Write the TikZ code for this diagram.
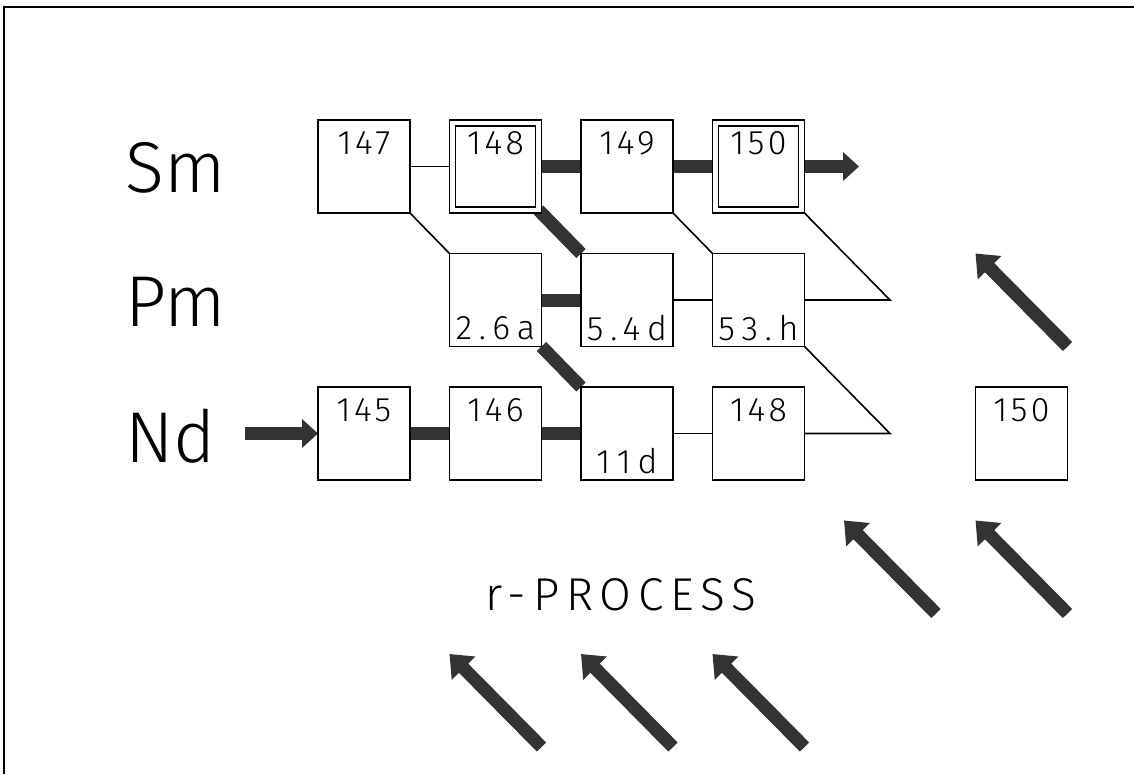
\documentclass[tikz,border=0pt]{standalone}
\usepackage{fontspec}
\setmainfont{Fira Sans Light}
\usepackage{tikz}
\usetikzlibrary{arrows.meta,backgrounds}

\begin{document}
\begin{tikzpicture}[x=1pt,y=-1pt,
  nuc/.style={draw,line width=1.6pt,fill=white,minimum width=92pt,minimum height=93pt,inner sep=0pt,outer sep=0pt},
  stab/.style={nuc,double,double distance=4.4pt,minimum width=86pt,minimum height=87pt},
  mass/.style={font=\fontsize{34}{36}\selectfont\addfontfeatures{LetterSpace=10},inner sep=0pt},
  life/.style={font=\fontsize{34}{36}\selectfont\addfontfeatures{LetterSpace=20},inner sep=0pt},
  elem/.style={font=\fontsize{72}{76}\selectfont,inner sep=0pt,anchor=west},
  thinlink/.style={line width=1.6pt},
  heavy/.style={line width=13pt,black!80},
  flow/.style={heavy,-{Triangle[length=16pt,width=28pt]}},
  rflow/.style={heavy,-{Triangle[length=20pt,width=32pt]}}]
  \useasboundingbox (0,0) rectangle (1134,774);

  % Frame
  \draw[line width=2pt] (4,774) -- (4,7) -- (1134,7);

  % Element labels
  \node[elem] (lsm) at (125,168) {Sm};
  \node[elem] (lpm) at (125,302) {Pm};
  \node[elem] (lnd) at (125,436) {Nd};

  % Sm row
  \node[nuc] (sm147) at (364,166.5) {};
  \node[stab] (sm148) at (495.5,166.5) {};
  \node[nuc] (sm149) at (627,166.5) {};
  \node[stab] (sm150) at (758.5,166.5) {};
  \node[mass] (tsm147) at ([yshift=23pt]sm147.center) {147};
  \node[mass] (tsm148) at ([yshift=23pt]sm148.center) {148};
  \node[mass] (tsm149) at ([yshift=23pt]sm149.center) {149};
  \node[mass] (tsm150) at ([yshift=23pt]sm150.center) {150};

  % Pm row
  \node[nuc] (pm26) at (495.5,300) {};
  \node[nuc] (pm54) at (627,300) {};
  \node[nuc] (pm53) at (758.5,300) {};
  \node[life] (tpm26) at ([yshift=-28pt]pm26.center) {2.6a};
  \node[life] (tpm54) at ([yshift=-28pt]pm54.center) {5.4d};
  \node[life] (tpm53) at ([yshift=-28pt]pm53.center) {53.h};

  % Nd row
  \node[nuc] (nd145) at (364,433.5) {};
  \node[nuc] (nd146) at (495.5,433.5) {};
  \node[nuc] (nd11) at (627,433.5) {};
  \node[nuc] (nd148) at (758.5,433.5) {};
  \node[nuc] (nd150) at (1021.5,433.5) {};
  \node[mass] (tnd145) at ([yshift=23pt]nd145.center) {145};
  \node[mass] (tnd146) at ([yshift=23pt]nd146.center) {146};
  \node[life] (tnd11) at ([yshift=-28pt]nd11.center) {11d};
  \node[mass] (tnd148) at ([yshift=23pt]nd148.center) {148};
  \node[mass] (tnd150) at ([yshift=23pt]nd150.center) {150};

  % free ends
  \coordinate (smend) at (859,166.5);
  \coordinate (ndstart) at (245,433.5);
  \coordinate (pmtip) at (890,300);
  \coordinate (ndtip) at (890,433.5);

  % Paths
  \begin{scope}[on background layer]
    \draw[thinlink] (sm147) -- (sm148);
    \draw[heavy] (sm148) -- (sm149);
    \draw[heavy] (sm149) -- (sm150);
    \draw[flow] (sm150.east) -- (smend);
    \draw[thinlink] (sm147.south east) -- (pm26.north west);
    \draw[heavy] (sm148.south east) -- (pm54.north west);
    \draw[thinlink] (sm149.south east) -- (pm53.north west);
    \draw[thinlink] (sm150.south east) -- (pmtip) -- (pm53.east);
    \draw[heavy] (pm26) -- (pm54);
    \draw[thinlink] (pm54) -- (pm53);
    \draw[heavy] (pm26.south east) -- (nd11.north west);
    \draw[thinlink] (pm53.south east) -- (ndtip) -- (nd148.east);
    \draw[flow] (ndstart) -- (nd145.west);
    \draw[heavy] (nd145) -- (nd146);
    \draw[heavy] (nd146) -- (nd11);
    \draw[thinlink] (nd11) -- (nd148);
  \end{scope}

  % r-process
  \node[font=\fontsize{46}{50}\selectfont\addfontfeatures{LetterSpace=15},inner sep=0pt] (rproc) at (621,595) {r-PROCESS};
  \coordinate (ra1s) at (1067.5,346.5); \coordinate (ra1e) at (975.5,253.5);
  \coordinate (ra2s) at (936,613.5);    \coordinate (ra2e) at (844,520.5);
  \coordinate (ra3s) at (1067.5,613.5); \coordinate (ra3e) at (975.5,520.5);
  \coordinate (ra4s) at (541.5,747);    \coordinate (ra4e) at (449.5,654);
  \coordinate (ra5s) at (673,747);      \coordinate (ra5e) at (581,654);
  \coordinate (ra6s) at (804.5,747);    \coordinate (ra6e) at (712.5,654);
  \draw[rflow] (ra1s) -- (ra1e);
  \draw[rflow] (ra2s) -- (ra2e);
  \draw[rflow] (ra3s) -- (ra3e);
  \draw[rflow] (ra4s) -- (ra4e);
  \draw[rflow] (ra5s) -- (ra5e);
  \draw[rflow] (ra6s) -- (ra6e);
\end{tikzpicture}
\end{document}
